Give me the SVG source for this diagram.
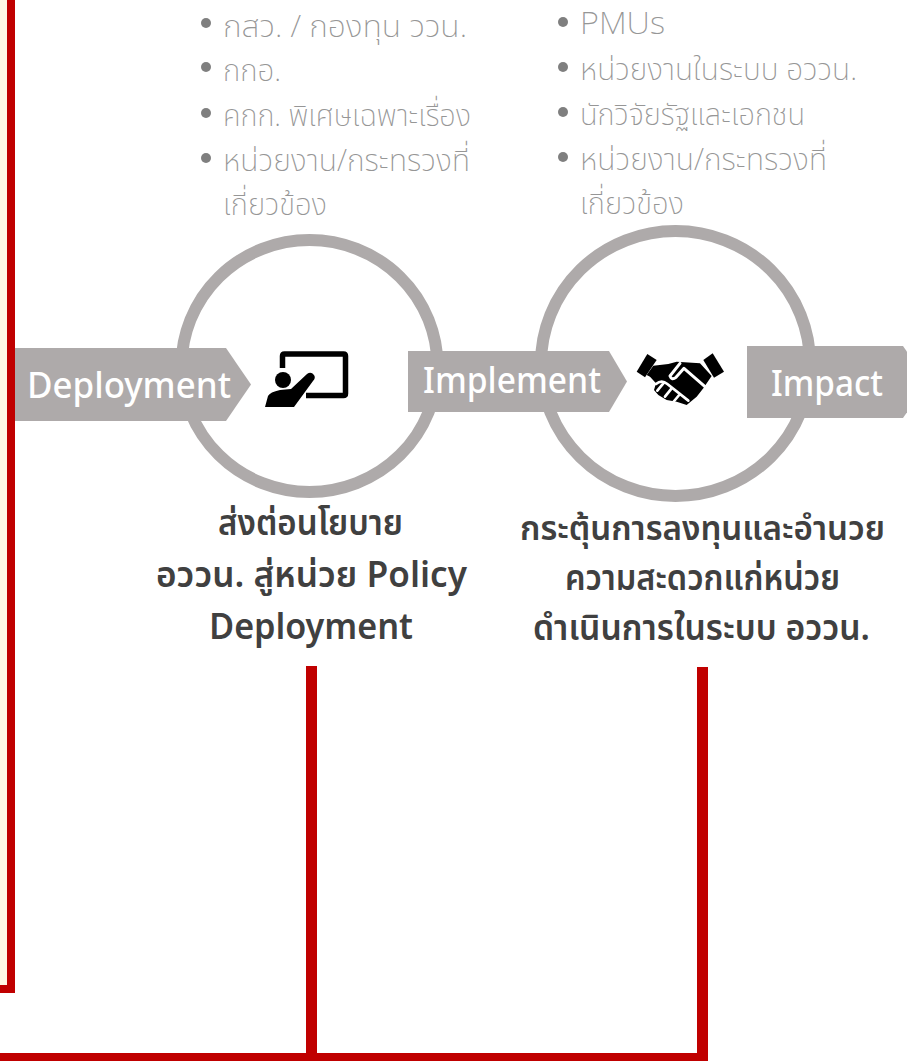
<svg xmlns="http://www.w3.org/2000/svg" width="907" height="1061" viewBox="0 0 907 1061">
<style>
text{font-family:"Noto Sans Thai","Noto Sans","Liberation Sans",sans-serif}
.b{font-size:31px;font-weight:200;fill:#969696}
.d{fill:#7f7f7f}
.t{font-size:36px;fill:#fff;font-weight:500}
.c{font-size:36px;fill:#404040;font-weight:600}
.m{text-anchor:middle}
.ring{fill:#fff;stroke:#aeaaaa;stroke-width:12}
.tag{fill:#aeaaaa}
.w{fill:none;stroke:#fff;stroke-width:5;stroke-linecap:round;stroke-linejoin:round}
</style>
<rect width="907" height="1061" fill="#fff"/>
<rect x="0" y="0" width="7" height="985" fill="#fff8e5"/>
<g id="connectors" fill="#c00000">
<path d="M7 0H15V993H0V985H7Z"/>
<path d="M306 666H317V1053H697V667H708V1061H0V1053H306Z"/>
</g>
<g id="list-left">
<circle class="d" cx="206" cy="23" r="5"/><text class="b" x="223" y="37" textLength="244" lengthAdjust="spacingAndGlyphs">กสว. / กองทุน ววน.</text>
<circle class="d" cx="206" cy="67" r="5"/><text class="b" x="223" y="81" textLength="58" lengthAdjust="spacingAndGlyphs">กกอ.</text>
<circle class="d" cx="206" cy="113" r="5"/><text class="b" x="223" y="126" textLength="248" lengthAdjust="spacingAndGlyphs">คกก. พิเศษเฉพาะเรื่อง</text>
<circle class="d" cx="206" cy="158" r="5"/><text class="b" x="223" y="171" textLength="247" lengthAdjust="spacingAndGlyphs">หน่วยงาน/กระทรวงที่</text>
<text class="b" x="223" y="215" textLength="104" lengthAdjust="spacingAndGlyphs">เกี่ยวข้อง</text>
</g>
<g id="list-right">
<circle class="d" cx="563" cy="22" r="5"/><text class="b" x="580" y="34" textLength="85" lengthAdjust="spacingAndGlyphs">PMUs</text>
<circle class="d" cx="563" cy="67" r="5"/><text class="b" x="580" y="80" textLength="277" lengthAdjust="spacingAndGlyphs">หน่วยงานในระบบ อววน.</text>
<circle class="d" cx="563" cy="112" r="5"/><text class="b" x="580" y="125" textLength="225" lengthAdjust="spacingAndGlyphs">นักวิจัยรัฐและเอกชน</text>
<circle class="d" cx="563" cy="157" r="5"/><text class="b" x="580" y="170" textLength="247" lengthAdjust="spacingAndGlyphs">หน่วยงาน/กระทรวงที่</text>
<text class="b" x="580" y="214" textLength="104" lengthAdjust="spacingAndGlyphs">เกี่ยวข้อง</text>
</g>
<g id="node-policy">
<ellipse class="ring" cx="309.500" cy="366" rx="128" ry="126"/>
<path d="M282.500 368V356Q282.500 354 284.500 354H343.500Q345.500 354 345.500 356V393.500Q345.500 395.500 343.500 395.500H306" fill="none" stroke="#000" stroke-width="5.500"/>
<circle cx="283" cy="380" r="8"/>
<path d="M265 407L268 396Q270 392 280 390L291 389L307 374Q311 371 314 375Q316 378 313 381L294 407Z"/>
<text class="c m" x="310.500" y="535" textLength="185" lengthAdjust="spacingAndGlyphs">ส่งต่อนโยบาย</text>
<text class="c m" x="311.500" y="587" textLength="311" lengthAdjust="spacingAndGlyphs">อววน. สู่หน่วย Policy</text>
<text class="c m" x="311" y="639" textLength="204" lengthAdjust="spacingAndGlyphs">Deployment</text>
</g>
<g id="node-implement">
<ellipse class="ring" cx="675.500" cy="363.500" rx="134.500" ry="132.500"/>
<g transform="translate(530 220) scale(.33333)">
<path d="M320 455L352 402L380 420L345 472Z"/>
<path d="M582 455L548 400L520 420L552 473Z"/>
<path d="M370 437L415 432L440 425L510 430L545 468L520 505L500 530L470 555L440 545L410 540L385 525L372 510L378 490L360 470L350 465Z"/>
<path class="w" style="stroke-width:9" d="M525 500L462 445L438 472Q425 482 420 468L450 430"/>
<path class="w" style="stroke-width:8" d="M378 492Q395 478 412 492L475 542M400 490L382 512M425 505L405 530M450 522L430 546"/>
</g>
<text class="c m" style="font-size:34px" x="702.500" y="540" textLength="365" lengthAdjust="spacingAndGlyphs">กระตุ้นการลงทุนและอำนวย</text>
<text class="c m" x="702.500" y="590" textLength="275" lengthAdjust="spacingAndGlyphs">ความสะดวกแก่หน่วย</text>
<text class="c m" x="701.500" y="640" textLength="337" lengthAdjust="spacingAndGlyphs">ดำเนินการในระบบ อววน.</text>
</g>
<g id="tag-deployment"><path class="tag" d="M15 348H226L251 384.500L226 421H15Z"/><text class="t" x="27" y="398" textLength="204" lengthAdjust="spacingAndGlyphs">Deployment</text></g>
<g id="tag-implement"><path class="tag" d="M408 351H609L627 381.500L609 412H408Z"/><text class="t" x="423" y="393" textLength="178" lengthAdjust="spacingAndGlyphs">Implement</text></g>
<g id="tag-impact"><path class="tag" d="M747 346H903L928 382L903 418H747Z"/><text class="t" x="771" y="396" textLength="112" lengthAdjust="spacingAndGlyphs">Impact</text></g>
</svg>
